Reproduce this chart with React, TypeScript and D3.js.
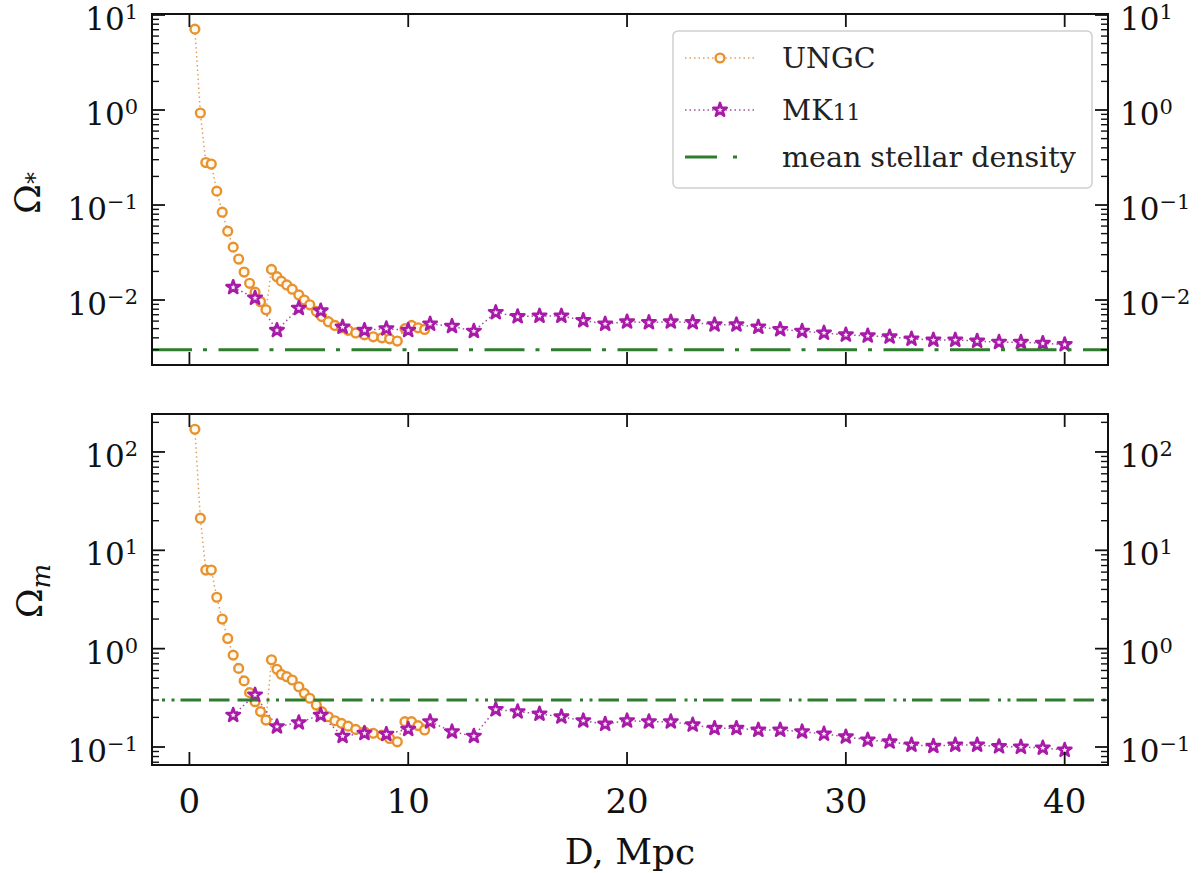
import React from "react";
import * as d3 from "d3";

// ---------------- data ----------------
const ungcD = [0.25, 0.5, 0.75, 1.0, 1.25, 1.5, 1.75, 2.0, 2.25, 2.5, 2.75, 3.0, 3.25, 3.5, 3.75, 4.0, 4.2, 4.45, 4.7, 5.0, 5.25, 5.5, 5.8, 6.05, 6.35, 6.65, 6.95, 7.25, 7.6, 8.0, 8.4, 8.8, 9.15, 9.5, 9.85, 10.15, 10.45, 10.75];
const ungcOmegaStar = [7.1, 0.93, 0.28, 0.27, 0.14, 0.084, 0.053, 0.036, 0.027, 0.0197, 0.015, 0.0121, 0.0096, 0.0079, 0.021, 0.0176, 0.0158, 0.0144, 0.013, 0.0113, 0.01, 0.0089, 0.0076, 0.0067, 0.0059, 0.0054, 0.0051, 0.0048, 0.0045, 0.0043, 0.0041, 0.004, 0.0039, 0.0037, 0.005, 0.0054, 0.0051, 0.0049];
const ungcOmegaM = [170, 21.2, 6.3, 6.3, 3.33, 2.0, 1.27, 0.86, 0.63, 0.47, 0.357, 0.289, 0.229, 0.188, 0.77, 0.617, 0.548, 0.519, 0.48, 0.41, 0.351, 0.313, 0.267, 0.229, 0.203, 0.185, 0.174, 0.163, 0.151, 0.143, 0.138, 0.132, 0.122, 0.113, 0.181, 0.181, 0.165, 0.149];

const mk11D = [2, 3, 4, 5, 6, 7, 8, 9, 10, 11, 12, 13, 14, 15, 16, 17, 18, 19, 20, 21, 22, 23, 24, 25, 26, 27, 28, 29, 30, 31, 32, 33, 34, 35, 36, 37, 38, 39, 40];
const mk11OmegaStar = [0.0136, 0.0105, 0.0048, 0.0082, 0.0077, 0.0052, 0.0048, 0.005, 0.0048, 0.0056, 0.0053, 0.0047, 0.0074, 0.0067, 0.0068, 0.0068, 0.0061, 0.0056, 0.0059, 0.0058, 0.0059, 0.0058, 0.0055, 0.0055, 0.0052, 0.0049, 0.0047, 0.0045, 0.0043, 0.0042, 0.0041, 0.0039, 0.0038, 0.0038, 0.0037, 0.0036, 0.0036, 0.0035, 0.0034];
const mk11OmegaM = [0.211, 0.338, 0.161, 0.177, 0.211, 0.129, 0.138, 0.135, 0.152, 0.181, 0.143, 0.129, 0.241, 0.229, 0.217, 0.203, 0.185, 0.171, 0.185, 0.181, 0.181, 0.168, 0.155, 0.155, 0.149, 0.149, 0.143, 0.136, 0.127, 0.118, 0.113, 0.105, 0.102, 0.105, 0.105, 0.101, 0.1, 0.098, 0.093];

const meanStellarTop = 0.003;
const meanStellarBottom = 0.3;

const xTicks = [0, 10, 20, 30, 40];
const topExponents = [-2, -1, 0, 1];
const bottomExponents = [-1, 0, 1, 2];
const legendLabels = ["UNGC", "MK11", "mean stellar density"];

// ---------------- style ----------------
const FONT = "'DejaVu Serif', 'Liberation Serif', serif";
const ORANGE = "#E8922E";
const ORANGE_LINE = "#E0A060";
const PURPLE = "#A81AA8";
const PURPLE_LINE = "#A050A0";
const GREEN = "#2E7D2E";

const L = 152, R = 1108;
const x = d3.scaleLinear().domain([-1.71, 41.98]).range([L, R]);

const MINUS = "\u2212";

function minorTicks(scale: any): number[] {
  const [a, b] = scale.domain();
  const lo = Math.log10(Math.min(a, b)), hi = Math.log10(Math.max(a, b));
  const out: number[] = [];
  for (let e = Math.floor(lo); e <= Math.ceil(hi); e++) {
    for (let k = 2; k <= 9; k++) {
      const v = k * Math.pow(10, e);
      const lv = Math.log10(v);
      if (lv > lo && lv < hi) out.push(v);
    }
  }
  return out;
}

const starPath = d3.symbol().type(d3.symbolStar).size(56)() as string;
const CIRCLE_R = 4.4;

function ExpLabel({ xPos, yPos, exp, anchor }: { xPos: number; yPos: number; exp: number; anchor: "start" | "end" }) {
  const e = exp < 0 ? MINUS + Math.abs(exp) : String(exp);
  return (
    <text x={xPos} y={yPos} fontFamily={FONT} fontSize={31} textAnchor={anchor} fill="#111">
      <tspan>10</tspan>
      <tspan fontSize={21} dy={-11}>{e}</tspan>
    </text>
  );
}

type PanelProps = {
  top: number;
  bottom: number;
  logTop: number;
  logBottom: number;
  ungc: number[];
  mk11: number[];
  mean: number;
  exps: number[];
  dash: string;
  dashOffset: number;
  id: string;
};

function Panel({ top, bottom, logTop, logBottom, ungc, mk11, mean, exps, dash, dashOffset, id }: PanelProps) {
  const y = d3.scaleLog().domain([Math.pow(10, logBottom), Math.pow(10, logTop)]).range([bottom, top]);
  const line = d3.line<[number, number]>().x((d) => x(d[0])).y((d) => y(d[1]));
  const ungcPts: [number, number][] = ungcD.map((d, i) => [d, ungc[i]]);
  const mkPts: [number, number][] = mk11D.map((d, i) => [d, mk11[i]]);
  const minors = minorTicks(y);
  const majors = exps.map((e) => Math.pow(10, e));
  return (
    <g>
      <defs>
        <clipPath id={id}>
          <rect x={L} y={top} width={R - L} height={bottom - top} />
        </clipPath>
      </defs>
      <g clipPath={`url(#${id})`}>
        <path d={line(ungcPts) as string} fill="none" stroke={ORANGE_LINE} strokeWidth={1.5} strokeDasharray="1.5 3" />
        <path d={line(mkPts) as string} fill="none" stroke={PURPLE_LINE} strokeWidth={1.5} strokeDasharray="1.5 3" />
        {ungcPts.map((p, i) => (
          <circle key={"u" + i} cx={x(p[0])} cy={y(p[1])} r={CIRCLE_R} fill="#FFF8EC" stroke={ORANGE} strokeWidth={2.4} />
        ))}
        {mkPts.map((p, i) => (
          <path key={"m" + i} d={starPath} transform={`translate(${x(p[0])},${y(p[1])})`} fill="#FCEAFB" stroke={PURPLE} strokeWidth={2.6} strokeLinejoin="round" />
        ))}
        <line x1={L} x2={R} y1={y(mean)} y2={y(mean)} stroke={GREEN} strokeWidth={3} strokeDasharray={dash} strokeDashoffset={dashOffset} />
      </g>
      {xTicks.map((t) => (
        <g key={"xt" + t}>
          <line x1={x(t)} x2={x(t)} y1={bottom} y2={bottom - 13} stroke="#111" strokeWidth={1.8} />
          <line x1={x(t)} x2={x(t)} y1={top} y2={top + 13} stroke="#111" strokeWidth={1.8} />
        </g>
      ))}
      {majors.map((v, i) => (
        <g key={"ym" + i}>
          <line x1={L} x2={L + 13} y1={y(v)} y2={y(v)} stroke="#111" strokeWidth={1.8} />
          <line x1={R} x2={R - 13} y1={y(v)} y2={y(v)} stroke="#111" strokeWidth={1.8} />
        </g>
      ))}
      {minors.map((v, i) => (
        <g key={"yn" + i}>
          <line x1={L} x2={L + 7} y1={y(v)} y2={y(v)} stroke="#111" strokeWidth={1.4} />
          <line x1={R} x2={R - 7} y1={y(v)} y2={y(v)} stroke="#111" strokeWidth={1.4} />
        </g>
      ))}
      <rect x={L} y={top} width={R - L} height={bottom - top} fill="none" stroke="#111" strokeWidth={2} />
      {exps.map((e) => (
        <g key={"yl" + e}>
          <ExpLabel xPos={138} yPos={y(Math.pow(10, e)) + 15} exp={e} anchor="end" />
          <ExpLabel xPos={1120} yPos={y(Math.pow(10, e)) + 15} exp={e} anchor="start" />
        </g>
      ))}
    </g>
  );
}

function Legend() {
  const bx = 673, by = 31, bw = 419, bh = 157;
  const rows = [58, 110, 157];
  const hx1 = 685, hx2 = 755, hm = 720, tx = 782;
  return (
    <g>
      <rect x={bx} y={by} width={bw} height={bh} rx={5} fill="#fff" fillOpacity={0.85} stroke="#cfcfcf" strokeWidth={1.5} />
      <line x1={hx1} x2={hx2} y1={rows[0]} y2={rows[0]} stroke={ORANGE_LINE} strokeWidth={1.5} strokeDasharray="1.5 3" />
      <circle cx={hm} cy={rows[0]} r={CIRCLE_R} fill="#FFF8EC" stroke={ORANGE} strokeWidth={2.4} />
      <line x1={hx1} x2={hx2} y1={rows[1]} y2={rows[1]} stroke={PURPLE_LINE} strokeWidth={1.5} strokeDasharray="1.5 3" />
      <path d={starPath} transform={`translate(${hm},${rows[1]})`} fill="#FCEAFB" stroke={PURPLE} strokeWidth={2.6} strokeLinejoin="round" />
      <line x1={hx1} x2={hx2} y1={rows[2]} y2={rows[2]} stroke={GREEN} strokeWidth={3} strokeDasharray="32 16 4 18" />
      <text x={tx} y={rows[0] + 10} fontFamily={FONT} fontSize={28.5} fill="#222">{legendLabels[0]}</text>
      <text x={tx} y={rows[1] + 10} fontFamily={FONT} fontSize={28.5} fill="#222">
        <tspan>{legendLabels[1].slice(0, 2)}</tspan>
        <tspan fontSize={22}>{legendLabels[1].slice(2)}</tspan>
      </text>
      <text x={tx} y={rows[2] + 10} fontFamily={FONT} fontSize={28.5} fill="#222">{legendLabels[2]}</text>
    </g>
  );
}

export default function App() {
  return (
    <svg width={1202} height={873} style={{ position: "absolute", left: 0, top: 0, background: "#fff" }}>
      <rect x={0} y={0} width={1202} height={873} fill="#fff" />
      <Panel id="cTop" top={14} bottom={365} logTop={1.0105} logBottom={-2.684} ungc={ungcOmegaStar} mk11={mk11OmegaStar} mean={meanStellarTop} exps={topExponents} dash="40 11 4 11.5" dashOffset={0} />
      <Panel id="cBot" top={414} bottom={765} logTop={2.386} logBottom={-1.183} ungc={ungcOmegaM} mk11={mk11OmegaM} mean={meanStellarBottom} exps={bottomExponents} dash="20.5 8 20.5 8 20.5 8.5 3 6.5 3 6" dashOffset={76} />
      {xTicks.map((t) => (
        <text key={"xl" + t} x={x(t)} y={813} fontFamily={FONT} fontSize={34} textAnchor="middle" fill="#111">{t}</text>
      ))}
      <text x={(L + R) / 2} y={864} fontFamily={FONT} fontSize={36} textAnchor="middle" fill="#111">D, Mpc</text>
      <text transform="translate(40,193) rotate(-90)" fontFamily={FONT} fontSize={36} textAnchor="middle" fill="#111">
        <tspan>Ω</tspan>
        <tspan fontSize={24} dy={3}>*</tspan>
      </text>
      <text transform="translate(42,591) rotate(-90)" fontFamily={FONT} fontSize={36} textAnchor="middle" fill="#111">
        <tspan>Ω</tspan>
        <tspan fontSize={26} fontStyle="italic" dy={8}>m</tspan>
      </text>
      <Legend />
    </svg>
  );
}
